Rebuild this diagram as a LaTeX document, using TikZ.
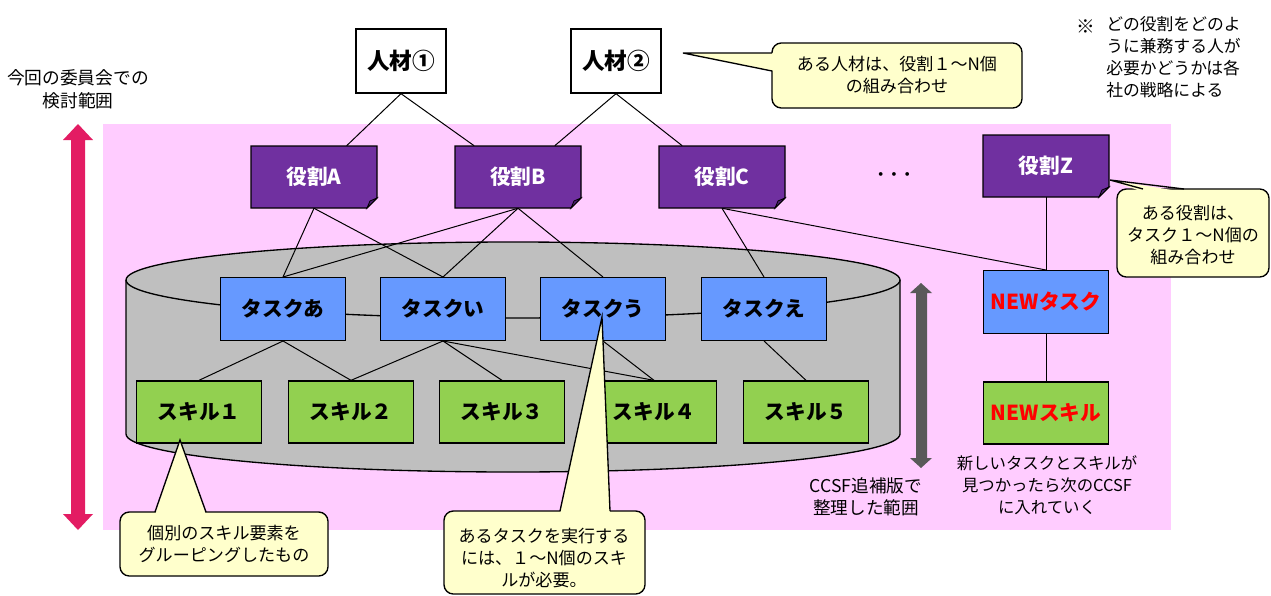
\documentclass[tikz,border=0pt]{standalone}
\usepackage{fontspec}
\setmainfont{Noto Sans CJK JP}
\usetikzlibrary{calc}
\definecolor{pinkbg}{HTML}{FFCCFF}
\definecolor{rolep}{HTML}{7030A0}
\definecolor{rolefold}{HTML}{4F1F75}
\definecolor{taskb}{HTML}{6699FF}
\definecolor{skillg}{HTML}{92D050}
\definecolor{cylg}{HTML}{BFBFBF}
\definecolor{callY}{HTML}{FFFFCC}
\definecolor{arrowpink}{HTML}{E31C63}
\definecolor{arrowgray}{HTML}{595959}
\definecolor{newred}{HTML}{FF0000}
\pgfdeclarelayer{bg}
\pgfdeclarelayer{lines}
\pgfsetlayers{bg,lines,main}
\tikzset{
  boxlabel/.style={font=\fontsize{15.5}{18}\selectfont\bfseries, inner sep=0pt, minimum width=93.75pt, minimum height=47pt},
  human/.style={boxlabel, draw=black, line width=1pt, fill=white, minimum width=67.5pt, minimum height=48pt, font=\fontsize{17}{18}\selectfont\bfseries},
  task/.style={boxlabel, draw=black, line width=1pt, fill=taskb},
  skill/.style={boxlabel, draw=black, line width=1pt, fill=skillg, minimum height=46.5pt},
  role/.style={boxlabel, text=white, minimum width=94.5pt, minimum height=46.5pt},
  link/.style={draw=black, line width=0.75pt},
  note/.style={font=\fontsize{12.8}{16.5}\selectfont, align=center, inner sep=0pt},
  callout/.style={fill=callY, draw=black, line width=1pt, rounded corners=7pt},
  calloutedge/.style={draw=black, line width=1pt},
}
\newcommand\rolebox[4]{%
  \begin{scope}[shift={(#2,#3)}]
    \filldraw[fill=rolep, draw=black, line width=1pt] (-63,-31) -- (63,-31) -- (63,21) -- (53,31) -- (-63,31) -- cycle;
    \filldraw[fill=rolefold, draw=black, line width=0.6pt] (63,21) -- (56,24) -- (53,31) -- cycle;
  \end{scope}
  \node[role] (#1) at (#2,#3) {#4};
}
\begin{document}
\begin{tikzpicture}[x=0.75pt,y=-0.75pt]
\useasboundingbox (0,0) rectangle (1271,596);

\begin{pgfonlayer}{bg}
  \fill[pinkbg] (103,124) rectangle (1171,530);
  % cylinder
  \filldraw[fill=cylg, draw=black, line width=1pt]
    (126,280) -- (126,434) arc[start angle=180, end angle=0, x radius=387, y radius=38]
    -- (900,280) arc[start angle=0, end angle=-180, x radius=387, y radius=38] -- cycle;
  \draw[black, line width=1pt] (126,280) arc[start angle=180, end angle=0, x radius=387, y radius=38];
  % range arrows
  \fill[arrowpink] (78,124) -- (93,140) -- (85,140) -- (85,514) -- (93,514) -- (78,530) -- (63,514) -- (71,514) -- (71,140) -- (63,140) -- cycle;
  \fill[arrowgray] (921,283) -- (932,293) -- (927,293) -- (927,458) -- (932,458) -- (921,468) -- (910,458) -- (916,458) -- (916,293) -- (910,293) -- cycle;
\end{pgfonlayer}

% humans
\node[human] (h1) at (401,61) {人材①};
\node[human] (h2) at (616,61) {人材②};

% roles
\rolebox{ra}{314}{177}{役割A}
\rolebox{rb}{518}{177}{役割B}
\rolebox{rc}{722}{177}{役割C}
\rolebox{rz}{1046}{166}{役割Z}
\node[font=\fontsize{10}{12}\selectfont\bfseries, inner sep=0pt] (dots) at (894,176) {・・・};

% tasks
\node[task] (ta) at (283,309) {タスクあ};
\node[task] (ti) at (443,309) {タスクい};
\node[task] (tu) at (603,309) {タスクう};
\node[task] (te) at (764,309) {タスクえ};
\node[task, text=newred] (tn) at (1046,302) {NEWタスク};

% skills
\node[skill] (s1) at (199,412) {スキル１};
\node[skill] (s2) at (351,412) {スキル２};
\node[skill] (s3) at (502,412) {スキル３};
\node[skill] (s4) at (654,412) {スキル４};
\node[skill] (s5) at (806,412) {スキル５};
\node[skill, text=newred] (sn) at (1046,413) {NEWスキル};

% connectors
\begin{pgfonlayer}{lines}
  \draw[link] (h1.south) -- (ra);
  \draw[link] (h1.south) -- (rb);
  \draw[link] (h2.south) -- (rb);
  \draw[link] (h2.south) -- (rc);
  \draw[link] (ra.south) -- (ta.north);
  \draw[link] (ra.south) -- (ti.north);
  \draw[link] (rb.south) -- (ta.north);
  \draw[link] (rb.south) -- (ti.north);
  \draw[link] (rb.south) -- (tu.north);
  \draw[link] (rc.south) -- (te.north);
  \draw[link] (rc.south) -- (tn.north);
  \draw[link] (rz.south) -- (tn.north);
  \draw[link] (ta.south) -- (s1.north);
  \draw[link] (ta.south) -- (s2.north);
  \draw[link] (ti.south) -- (s2.north);
  \draw[link] (ti.south) -- (s3.north);
  \draw[link] (ti.south) -- (s4.north);
  \draw[link] (tu.south) -- (s4.north);
  \draw[link] (te.south) -- (s5.north);
  \draw[link] (tn.south) -- (sn.north);
\end{pgfonlayer}

% free texts
\node[note, font=\fontsize{13.3}{17}\selectfont] (scope) at (78,89) {今回の委員会での\\検討範囲};
\node[note, font=\fontsize{13.2}{16.5}\selectfont] (ccsf) at (866,497) {CCSF追補版で\\整理した範囲};
\node[note, font=\fontsize{12.3}{16.5}\selectfont] (newnote) at (1047,485) {新しいタスクとスキルが\\見つかったら次のCCSF\\に入れていく};
\node[note, anchor=west, font=\fontsize{14}{16.5}\selectfont] (kome) at (1076,27) {※};
\node[note, align=left, anchor=north west, font=\fontsize{12.6}{16.5}\selectfont] (strategy) at (1106,16) {どの役割をどのよ\\うに兼務する人が\\必要かどうかは各\\社の戦略による};

% callout: humans
\coordinate (c1tip) at (683,53);
\draw[callout] (772,43) rectangle (1022,108);
\fill[callY] (c1tip) -- (775,53) -- (775,71) -- cycle;
\draw[calloutedge] (772,53) -- (c1tip) -- (772,71);
\node[note] (c1) at (897,75) {ある人材は、役割１～N個\\の組み合わせ};

% callout: role Z
\coordinate (c2tip) at (1110,180);
\draw[callout] (1117,189) rectangle (1269,277);
\fill[callY] (c2tip) -- (1143,192) -- (1184,192) -- cycle;
\draw[calloutedge] (1143,189) -- (c2tip) -- (1184,189);
\node[note] (c2) at (1193,235) {ある役割は、\\タスク１～N個の\\組み合わせ};

% callout: skill
\coordinate (c3tip) at (180,440);
\draw[callout] (120,512) rectangle (328,576);
\fill[callY] (c3tip) -- (155,515) -- (206,515) -- cycle;
\draw[calloutedge] (155,512) -- (c3tip) -- (206,512);
\node[note] (c3) at (224,544) {個別のスキル要素を\\グルーピングしたもの};

% callout: task
\coordinate (c4tip) at (602,317);
\draw[callout] (444,511) rectangle (645,594);
\fill[callY] (c4tip) -- (560,514) -- (610,514) -- cycle;
\draw[calloutedge] (560,511) -- (c4tip) -- (610,511);
\node[note] (c4) at (544,558) {あるタスクを実行する\\には、１～N個のスキ\\ルが必要。};
\end{tikzpicture}
\end{document}
